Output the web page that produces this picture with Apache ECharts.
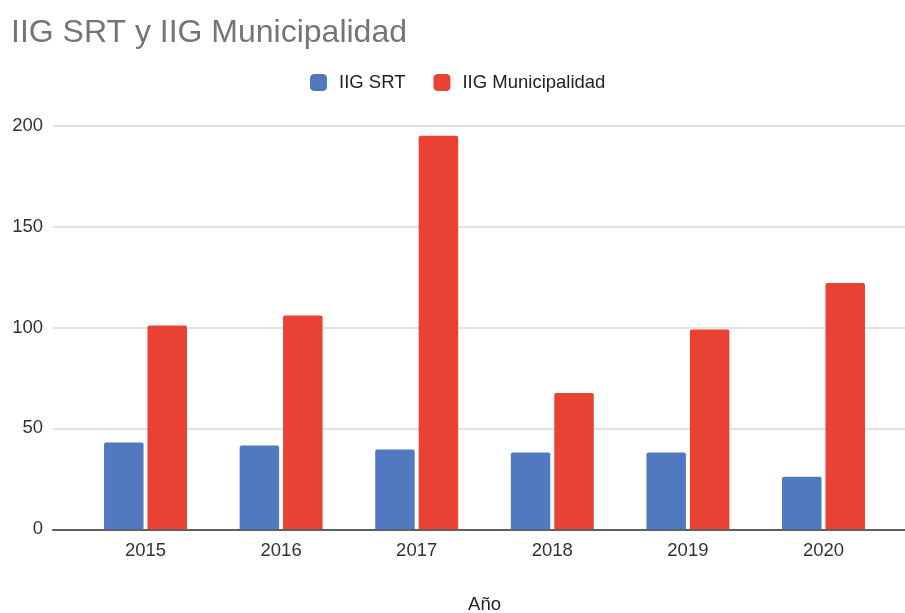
<!DOCTYPE html>
<html>
<head>
<meta charset="utf-8">
<script src="https://cdn.jsdelivr.net/npm/echarts@6/dist/echarts.min.js"></script>
<style>
html,body{margin:0;padding:0;background:#fff;}
#chart{width:905px;height:613px;}
</style>
</head>
<body>
<div id="chart"></div>
<script>
var years = ['2015', '2016', '2017', '2018', '2019', '2020'];
var srtValues = [43, 41.5, 39.5, 38, 38, 26];
var muniValues = [101, 106, 195, 67.5, 99, 122];
var yTicks = { min: 0, max: 200, interval: 50 };
var seriesNames = ['IIG SRT', 'IIG Municipalidad'];
var titleText = 'IIG SRT y IIG Municipalidad';
var xName = 'Año';

var font = '"Liberation Sans", Arial, sans-serif';
var chart = echarts.init(document.getElementById('chart'), null, { renderer: 'canvas' });
chart.setOption({
  animation: false,
  backgroundColor: '#ffffff',
  textStyle: { fontFamily: font },
  title: {
    text: titleText,
    left: 6,
    top: 12,
    textStyle: { fontFamily: font, fontSize: 32, fontWeight: 'normal', color: '#757575' }
  },
  legend: {
    data: seriesNames,
    left: 305,
    top: 68,
    itemWidth: 17,
    itemHeight: 17,
    itemGap: 28,
    icon: 'roundRect',
    textStyle: { fontFamily: font, fontSize: 18.5, color: '#222222', padding: [0, 0, 0, 7] }
  },
  grid: [
    { left: 53, right: 0, top: 125.7, bottom: 83.7, containLabel: false, outerBoundsMode: 'none' },
    { left: 77.7, right: 13.7, top: 125.7, bottom: 83.7, containLabel: false, outerBoundsMode: 'none' }
  ],
  xAxis: [
    {
      gridIndex: 0, type: 'value', min: 0, max: 1,
      axisLine: { show: true, onZero: false, lineStyle: { color: '#5f5f5f', width: 2 } },
      axisTick: { show: false }, axisLabel: { show: false }, splitLine: { show: false }
    },
    {
      gridIndex: 1, type: 'category', data: years,
      axisLine: { show: false }, axisTick: { show: false },
      axisLabel: { fontFamily: font, fontSize: 18.5, color: '#333333', margin: 12 },
      name: xName, nameLocation: 'middle', nameGap: 66,
      nameTextStyle: { fontFamily: font, fontSize: 18.5, color: '#222222' }
    }
  ],
  yAxis: [
    {
      gridIndex: 0, type: 'value', min: yTicks.min, max: yTicks.max, interval: yTicks.interval,
      axisLine: { show: false }, axisTick: { show: false },
      axisLabel: { fontFamily: font, fontSize: 18.5, color: '#333333', margin: 10 },
      splitLine: { show: true, lineStyle: { color: '#d9d9d9', width: 1.5 } }
    },
    {
      gridIndex: 1, type: 'value', min: yTicks.min, max: yTicks.max, interval: yTicks.interval,
      show: false
    }
  ],
  series: [
    {
      name: seriesNames[0], type: 'bar', xAxisIndex: 1, yAxisIndex: 1,
      data: srtValues, barWidth: 39.5, barGap: '10%',
      itemStyle: { color: '#5079bf', borderRadius: [2, 2, 0, 0] }
    },
    {
      name: seriesNames[1], type: 'bar', xAxisIndex: 1, yAxisIndex: 1,
      data: muniValues, barWidth: 39.5, barGap: '10%',
      itemStyle: { color: '#e94133', borderRadius: [2, 2, 0, 0] }
    }
  ]
});
</script>
</body>
</html>
